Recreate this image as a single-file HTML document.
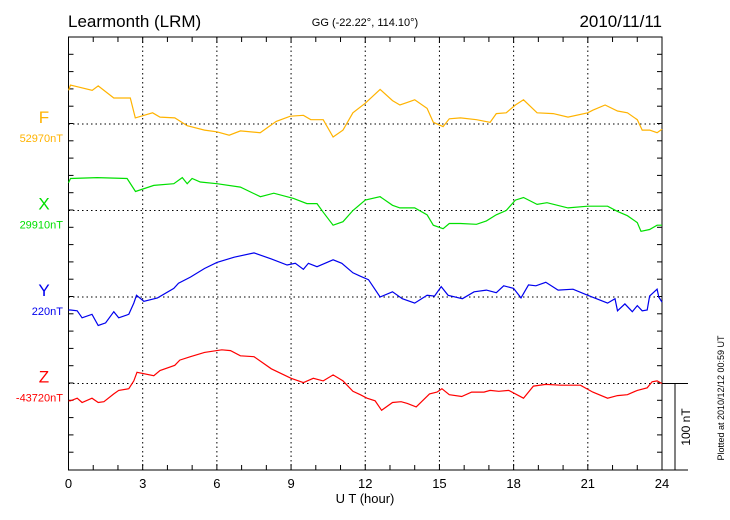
<!DOCTYPE html>
<html><head><meta charset="utf-8"><style>
body{margin:0;background:#fff;width:730px;height:520px;overflow:hidden}
svg{display:block;font-family:"Liberation Sans",sans-serif}
</style></head><body>
<svg id="chart" width="730" height="520" viewBox="0 0 730 520">
<text x="68" y="27" font-size="17">Learmonth (LRM)</text>
<text x="365" y="26" font-size="11" text-anchor="middle">GG (-22.22°, 114.10°)</text>
<text x="662" y="27" font-size="17" text-anchor="end">2010/11/11</text>
<text x="365" y="503" font-size="13" text-anchor="middle">U T (hour)</text>
<text transform="translate(724,398) rotate(-90)" font-size="9" text-anchor="middle">Plotted at 2010/12/12 00:59 UT</text>
<text transform="translate(690,427) rotate(-90)" font-size="12" text-anchor="middle">100 nT</text>
<g id="grid"></g><g id="axes"></g><g id="series"></g><g id="labels"></g>
</svg>
<script>
const fTimes=[0,0.08,0.96,1.2,1.83,2.5,2.7,3.4,3.7,4.3,4.8,5.5,6.0,6.5,6.95,7.75,8.4,8.97,9.5,9.8,10.3,10.7,11.1,11.5,12,12.6,13.1,13.4,13.7,14,14.5,14.75,15.15,15.4,15.85,16.5,17.05,17.3,17.7,18.07,18.4,18.95,19.6,20.2,21,21.2,21.7,22.2,22.6,23,23.2,23.5,23.8,24];
const fValues=[39,45,39,44,30,30,7,13,8,7,-2,-7,-9,-13,-8,-10,3,9,10,5,5,-15,-7,13,24,40,27,22,25,28,18,2,-3,6,7,5,2,12,13,22,28,13,12,8,13,16,22,15,13,5,-7,-7,-10,-6];
const xTimes=[0,0.08,1.16,2.37,2.71,3.45,4.26,4.6,4.8,5.0,5.33,6,6.95,7.76,8.3,9.1,9.64,10.05,10.3,10.7,11.1,11.5,12,12.6,13.1,13.4,14,14.5,14.75,15.15,15.4,15.85,16.5,16.9,17.3,17.7,18.07,18.4,18.95,19.35,20.2,21,21.8,22.2,22.6,23,23.15,23.5,23.8,24];
const xValues=[32,37,38,37,22,29,31,38,31,37,33,31,27,16,20,14,8,8,-2,-17,-13,0,12,16,6,3,3,-5,-17,-21,-15,-15,-16,-12,-5,0,12,15,7,9,3,5,5,-1,-6,-14,-24,-22,-17,-17];
const yTimes=[0,0.08,0.35,0.55,0.95,1.2,1.5,1.83,2.03,2.44,2.64,2.75,3.05,3.6,4.26,4.45,4.93,5.5,6.0,6.7,7.5,8.2,8.84,9.17,9.5,9.7,10.05,10.3,10.7,11.05,11.5,11.8,12.13,12.6,13.1,13.5,14,14.5,14.8,15.07,15.35,15.93,16.4,16.9,17.3,17.6,18,18.3,18.6,18.9,19.3,19.8,20.4,21,21.8,22.1,22.2,22.5,22.8,23,23.2,23.4,23.5,23.8,23.87,24];
const yValues=[-15,-15,-16,-24,-20,-33,-30,-17,-24,-20,-7,2,-5,-1,10,16,23,33,40,46,51,44,37,39,32,39,35,38,43,39,28,24,20,0,6,-2,-7,2,1,12,2,-2,6,8,5,13,10,-1,14,13,17,8,9,2,-7,-2,-16,-8,-17,-10,-16,-15,1,9,0,-6];
const zTimes=[0,0.08,0.35,0.55,0.95,1.2,1.43,1.83,2.03,2.44,2.64,2.77,3.45,3.7,4.3,4.5,4.93,5.5,6.2,6.55,6.95,7.5,8.2,9,9.5,9.9,10.3,10.7,11.1,11.5,11.8,12.07,12.4,12.66,13.1,13.45,13.7,14.06,14.6,14.9,15.1,15.4,15.9,16.3,16.8,17.05,17.4,17.8,18.4,18.8,19.3,19.9,20.7,21.2,21.8,22.2,22.6,23,23.4,23.6,23.8,24];
const zValues=[-20,-20,-17,-22,-17,-22,-21,-12,-8,-6,3,13,9,15,21,27,31,36,39,38,32,31,17,6,1,6,3,10,3,-9,-13,-17,-20,-31,-22,-21,-23,-27,-12,-10,-6,-13,-15,-10,-10,-8,-9,-8,-17,-3,-1,-2,-2,-10,-17,-14,-13,-8,-5,2,3,0];
const seriesNames=["F","X","Y","Z"];
const seriesBases=["52970nT","29910nT","220nT","-43720nT"];
const xTickLabels=["0","3","6","9","12","15","18","21","24"];

const NS="http://www.w3.org/2000/svg";
const L=68.5,R=662,T=37,B=470;
const colors=["#ffb300","#00e000","#0000ee","#ff0000"];
const baseY=[124,210.5,297,383.5];
const pxPerNT=(B-383.5)/100;
function xs(t){return L+(R-L)*t/24;}
function ys(i,v){return baseY[i]-v*pxPerNT;}
function mk(tag,attrs,parent){const e=document.createElementNS(NS,tag);for(const k in attrs)e.setAttribute(k,attrs[k]);parent.appendChild(e);return e;}
const grid=document.getElementById('grid'),axes=document.getElementById('axes'),ser=document.getElementById('series'),lab=document.getElementById('labels');
for(let h=3;h<24;h+=3){const g=mk('line',{x1:xs(h),x2:xs(h),y1:T,y2:B,stroke:'#000','stroke-width':1,'stroke-dasharray':'1.5,3'},grid);

}
for(let i=0;i<4;i++){const g=mk('line',{x1:L,x2:R,y1:baseY[i],y2:baseY[i],stroke:'#000','stroke-width':1,'stroke-dasharray':'1.5,3'},grid);

}
const frame=mk('rect',{x:L,y:T,width:R-L,height:B-T,fill:'none',stroke:'#000','stroke-width':1},axes);


for(let h=0;h<=24;h++){const len=(h%3==0)?6:5;
mk('line',{x1:xs(h),x2:xs(h),y1:B,y2:B-len,stroke:'#000'},axes);
mk('line',{x1:xs(h),x2:xs(h),y1:T,y2:T+len,stroke:'#000'},axes);}
for(let k=1;k<25;k++){const y=T+k*pxPerNT*20;if(y>=B)break;
mk('line',{x1:L,x2:L+5,y1:y,y2:y,stroke:'#000'},axes);
mk('line',{x1:R,x2:R-5,y1:y,y2:y,stroke:'#000'},axes);}
xTickLabels.forEach((s,i)=>{const t=mk('text',{x:xs(i*3),y:488,'font-size':13,'text-anchor':'middle'},lab);t.textContent=s;

});
const sb=mk('g',{},axes);


mk('line',{x1:R,x2:688,y1:383.5,y2:383.5,stroke:'#000'},sb);
mk('line',{x1:R,x2:688,y1:B,y2:B,stroke:'#000'},sb);
mk('line',{x1:675,x2:675,y1:383.5,y2:B,stroke:'#000'},sb);
const T_=[fTimes,xTimes,yTimes,zTimes],V_=[fValues,xValues,yValues,zValues];
for(let i=0;i<4;i++){
 const d=T_[i].map((t,j)=>(j?'L':'M')+xs(t).toFixed(1)+','+ys(i,V_[i][j]).toFixed(1)).join('');
 const p=mk('path',{d:d,fill:'none',stroke:colors[i],'stroke-width':1.2},ser);
 
 
 const n=mk('text',{x:44,y:baseY[i]-1,'font-size':17,'text-anchor':'middle',fill:colors[i]},lab);n.textContent=seriesNames[i];
 
 
 const b=mk('text',{x:63,y:baseY[i]+18,'font-size':11,'text-anchor':'end',fill:colors[i]},lab);b.textContent=seriesBases[i];
 
 
}
</script>
</body></html>
